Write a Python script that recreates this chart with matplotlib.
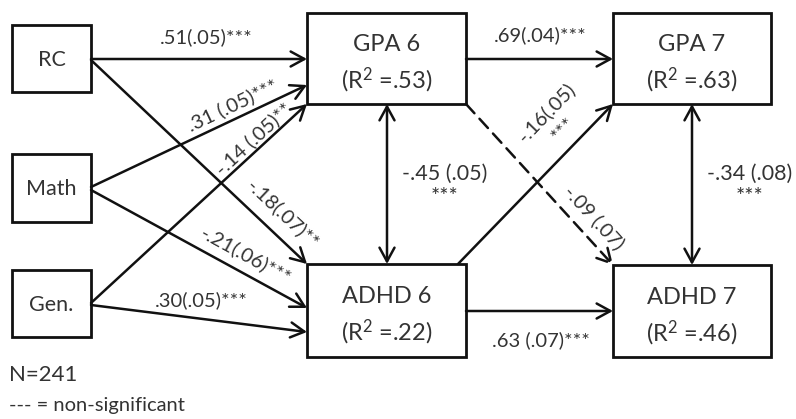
import matplotlib.pyplot as plt
from matplotlib.patches import Rectangle
import numpy as np

plt.rcParams["font.family"] = ["Lato", "DejaVu Sans"]
plt.rcParams["mathtext.fontset"] = "custom"
plt.rcParams["mathtext.rm"] = "Lato"
plt.rcParams["mathtext.it"] = "Lato:italic"

TEXT = "#333333"
LINE = "#111111"

# model variables
predictors = ["RC", "Math", "Gen."]
outcomes = ["GPA 6", "ADHD 6", "GPA 7", "ADHD 7"]
r_squared = [".53", ".22", ".63", ".46"]

# directed paths (estimate (se) significance)
path_from = ["RC", "RC", "Math", "Math", "Gen.", "Gen.", "GPA 6", "ADHD 6", "ADHD 6", "GPA 6"]
path_to = ["GPA 6", "ADHD 6", "GPA 6", "ADHD 6", "GPA 6", "ADHD 6", "GPA 7", "ADHD 7", "GPA 7", "ADHD 7"]
path_label = [".51(.05)***", "-.18(.07)**", ".31 (.05)***", "-.21(.06)***", "-.14 (.05)**",
              ".30(.05)***", ".69(.04)***", ".63 (.07)***", "-.16(.05)\n***", "-.09 (.07)"]
path_sig = [True, True, True, True, True, True, True, True, True, False]

# residual covariances
cov_pairs = [("GPA 6", "ADHD 6"), ("GPA 7", "ADHD 7")]
cov_label = ["-.45 (.05)\n***", "-.34 (.08)\n***"]

n_obs = 241

# ---- layout (pixel space, y down) ----
BOX = {
    "RC": (12, 25, 91, 92),
    "Math": (12, 154, 91, 222),
    "Gen.": (12, 270, 91, 337),
    "GPA 6": (307, 13, 466, 104),
    "ADHD 6": (307, 264, 466, 357),
    "GPA 7": (613, 13, 771, 104),
    "ADHD 7": (613, 265, 771, 357),
}
PATH_XY = [
    ((91, 59), (307, 59)),
    ((91, 60), (307, 264)),
    ((91, 187), (307, 85)),
    ((91, 190), (307, 308)),
    ((91, 303), (307, 104)),
    ((91, 305), (307, 332)),
    ((466, 59), (613, 59)),
    ((466, 311), (613, 311)),
    ((458, 264), (613, 104)),
    ((466, 104), (613, 265)),
]
LABEL_XY = [(206, 37), (283, 214), (232, 105), (246, 255), (254, 139),
            (201, 300), (540, 35), (541, 340), (555, 121), (594, 217)]
LABEL_FLAT = [True, False, False, False, False, True, True, True, False, False]
COV_X = [387, 692]
COV_LABEL_XY = [(445, 185), (750, 185)]

fig = plt.figure(figsize=(7.96, 4.19), dpi=100)
ax = fig.add_axes([0, 0, 1, 1])
ax.set_xlim(0, 796)
ax.set_ylim(419, 0)
ax.axis("off")

for name, (x0, y0, x1, y1) in BOX.items():
    ax.add_patch(Rectangle((x0, y0), x1 - x0, y1 - y0, fill=False,
                           edgecolor=LINE, lw=2.0))
    cx, cy = (x0 + x1) / 2, (y0 + y1) / 2
    if name in predictors:
        ax.text(cx, cy + 1, name, ha="center", va="center", fontsize=15.5, color=TEXT)
    else:
        r2 = r_squared[outcomes.index(name)]
        ax.text(cx, cy - 14, name, ha="center", va="center", fontsize=17, color=TEXT)
        ax.text(cx, cy + 22, "(R$^2$ =" + r2 + ")", ha="center", va="center",
                fontsize=17, color=TEXT)

arrow_kw = dict(arrowstyle="->,head_length=0.55,head_width=0.3", shrinkA=0, shrinkB=0,
                color=LINE, lw=1.8, mutation_scale=18)

for i, (src, dst) in enumerate(zip(path_from, path_to)):
    (xa, ya), (xb, yb) = PATH_XY[i]
    props = dict(arrow_kw)
    if not path_sig[i]:
        props["linestyle"] = (0, (5, 3))
    ax.annotate("", xy=(xb, yb), xytext=(xa, ya), arrowprops=props)
    rot = 0 if LABEL_FLAT[i] else np.degrees(np.arctan2(-(yb - ya), xb - xa))
    lx, ly = LABEL_XY[i]
    ax.text(lx, ly, path_label[i], ha="center", va="center", rotation=rot,
            rotation_mode="anchor", fontsize=14.5, color=TEXT,
            multialignment="center", linespacing=1.5)

for i, (a, b) in enumerate(cov_pairs):
    x = COV_X[i]
    props = dict(arrow_kw)
    props["arrowstyle"] = "<->,head_length=0.55,head_width=0.3"
    ax.annotate("", xy=(x, BOX[b][1]), xytext=(x, BOX[a][3]), arrowprops=props)
    lx, ly = COV_LABEL_XY[i]
    ax.text(lx, ly, cov_label[i], ha="center", va="center", fontsize=15.5,
            color=TEXT, multialignment="center", linespacing=1.2)

ax.text(9, 375, f"N={n_obs}", ha="left", va="center", fontsize=16, color=TEXT)
ax.text(9, 405, "--- = non-significant", ha="left", va="center", fontsize=14.5, color=TEXT)

fig.savefig("out.png", dpi=100)
